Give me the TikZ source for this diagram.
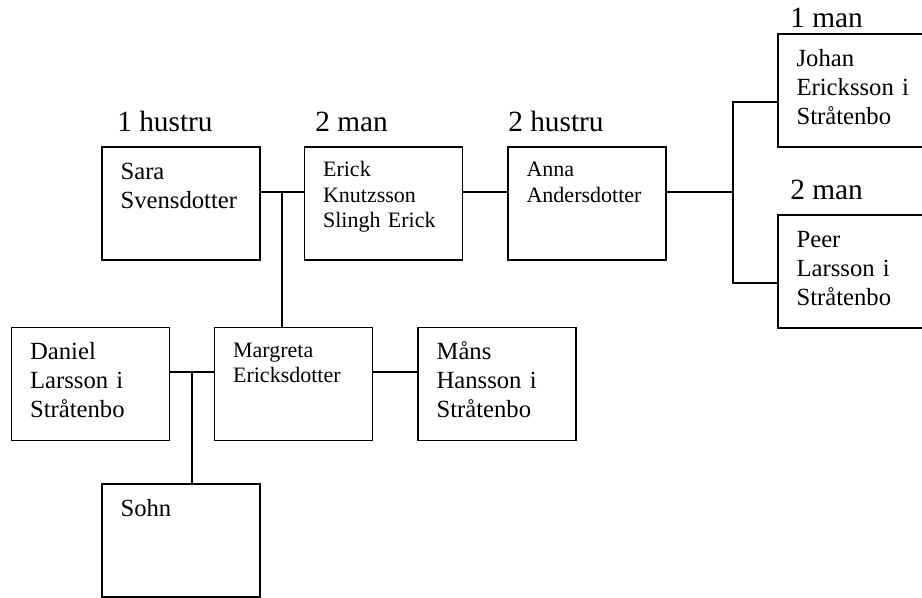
\documentclass[tikz,border=0pt]{standalone}
\usepackage{fontspec}
\setmainfont{Liberation Serif}
\usetikzlibrary{positioning}

\tikzset{
	pbox/.style={draw, line width=1pt, minimum width=118.5pt, minimum height=84.75pt, inner sep=0pt},
	bigtxt/.style={anchor=base west, text width=110pt, align=left, inner sep=0pt, xshift=14.25pt, yshift=-24.75pt, font=\fontsize{18.5pt}{21.75pt}\selectfont},
	smalltxt/.style={anchor=base west, text width=110pt, align=left, inner sep=0pt, xshift=14.25pt, yshift=-22.9pt, font=\fontsize{16.5pt}{19.1pt}\selectfont},
	tag/.style={anchor=base west, inner sep=0pt, font=\fontsize{22pt}{26pt}\selectfont},
	link/.style={line width=1pt}
}

\begin{document}
\begin{tikzpicture}[x=0.75pt, y=-0.75pt]
			%%%%% START %%%%%
			\useasboundingbox (0,0) rectangle (922,598);
			\clip (0,0) rectangle (922,598);
			
			% top row
			\node[tag] (tsara) at (117,132) {1 hustru};
			\node[tag] (terick) at (315,132) {2 man};
			\node[tag] (tanna) at (508,132) {2 hustru};
			\node[tag] (tjohan) at (790,28) {1 man};
			\node[tag] (tpeer) at (790,200) {2 man};
			
			\node[pbox, label={[bigtxt]north west:{Sara\\Svensdotter}}] (sara) at (181,203.5) {};
			\node[pbox, label={[smalltxt]north west:{Erick\\Knutzsson\\Slingh Erick}}] (erick) at (383.5,203.5) {};
			\node[pbox, label={[smalltxt]north west:{Anna\\Andersdotter}}] (anna) at (587,203.5) {};
			\node[pbox, label={[bigtxt]north west:{Johan\\Ericksson i\\Stråtenbo}}] (johan) at (857,90.5) {};
			\node[pbox, label={[bigtxt]north west:{Peer\\Larsson i\\Stråtenbo}}] (peer) at (857,271.5) {};
			
			% second row
			\node[pbox, label={[bigtxt]north west:{Daniel\\Larsson i\\Stråtenbo}}] (daniel) at (90.5,384) {};
			\node[pbox, label={[smalltxt]north west:{Margreta\\Ericksdotter}}] (margreta) at (293.5,384) {};
			\node[pbox, label={[bigtxt]north west:{Måns\\Hansson i\\Stråtenbo}}] (maans) at (497,384) {};
			\node[pbox, label={[bigtxt]north west:{Sohn}}] (sohn) at (181,540.5) {};
			
			% links
			\coordinate (w1) at (282,192);
			\coordinate (w2) at (733,192);
			\coordinate (w3) at (733,102);
			\coordinate (w4) at (733,283);
			\coordinate (w5) at (192,372);
			
			\draw[link] (sara.east |- w1) -- (erick.west |- w1);
			\draw[link] (w1) -- (w1 |- margreta.north);
			\draw[link] (erick.east |- w1) -- (anna.west |- w1);
			\draw[link] (anna.east |- w2) -- (w2);
			\draw[link] (w3 -| johan.west) -- (w3) -- (w4) -- (w4 -| peer.west);
			\draw[link] (daniel.east |- w5) -- (margreta.west |- w5);
			\draw[link] (w5) -- (w5 |- sohn.north);
			\draw[link] (margreta.east |- w5) -- (maans.west |- w5);
			
			%%%%% END %%%%%
\end{tikzpicture}
\end{document}
